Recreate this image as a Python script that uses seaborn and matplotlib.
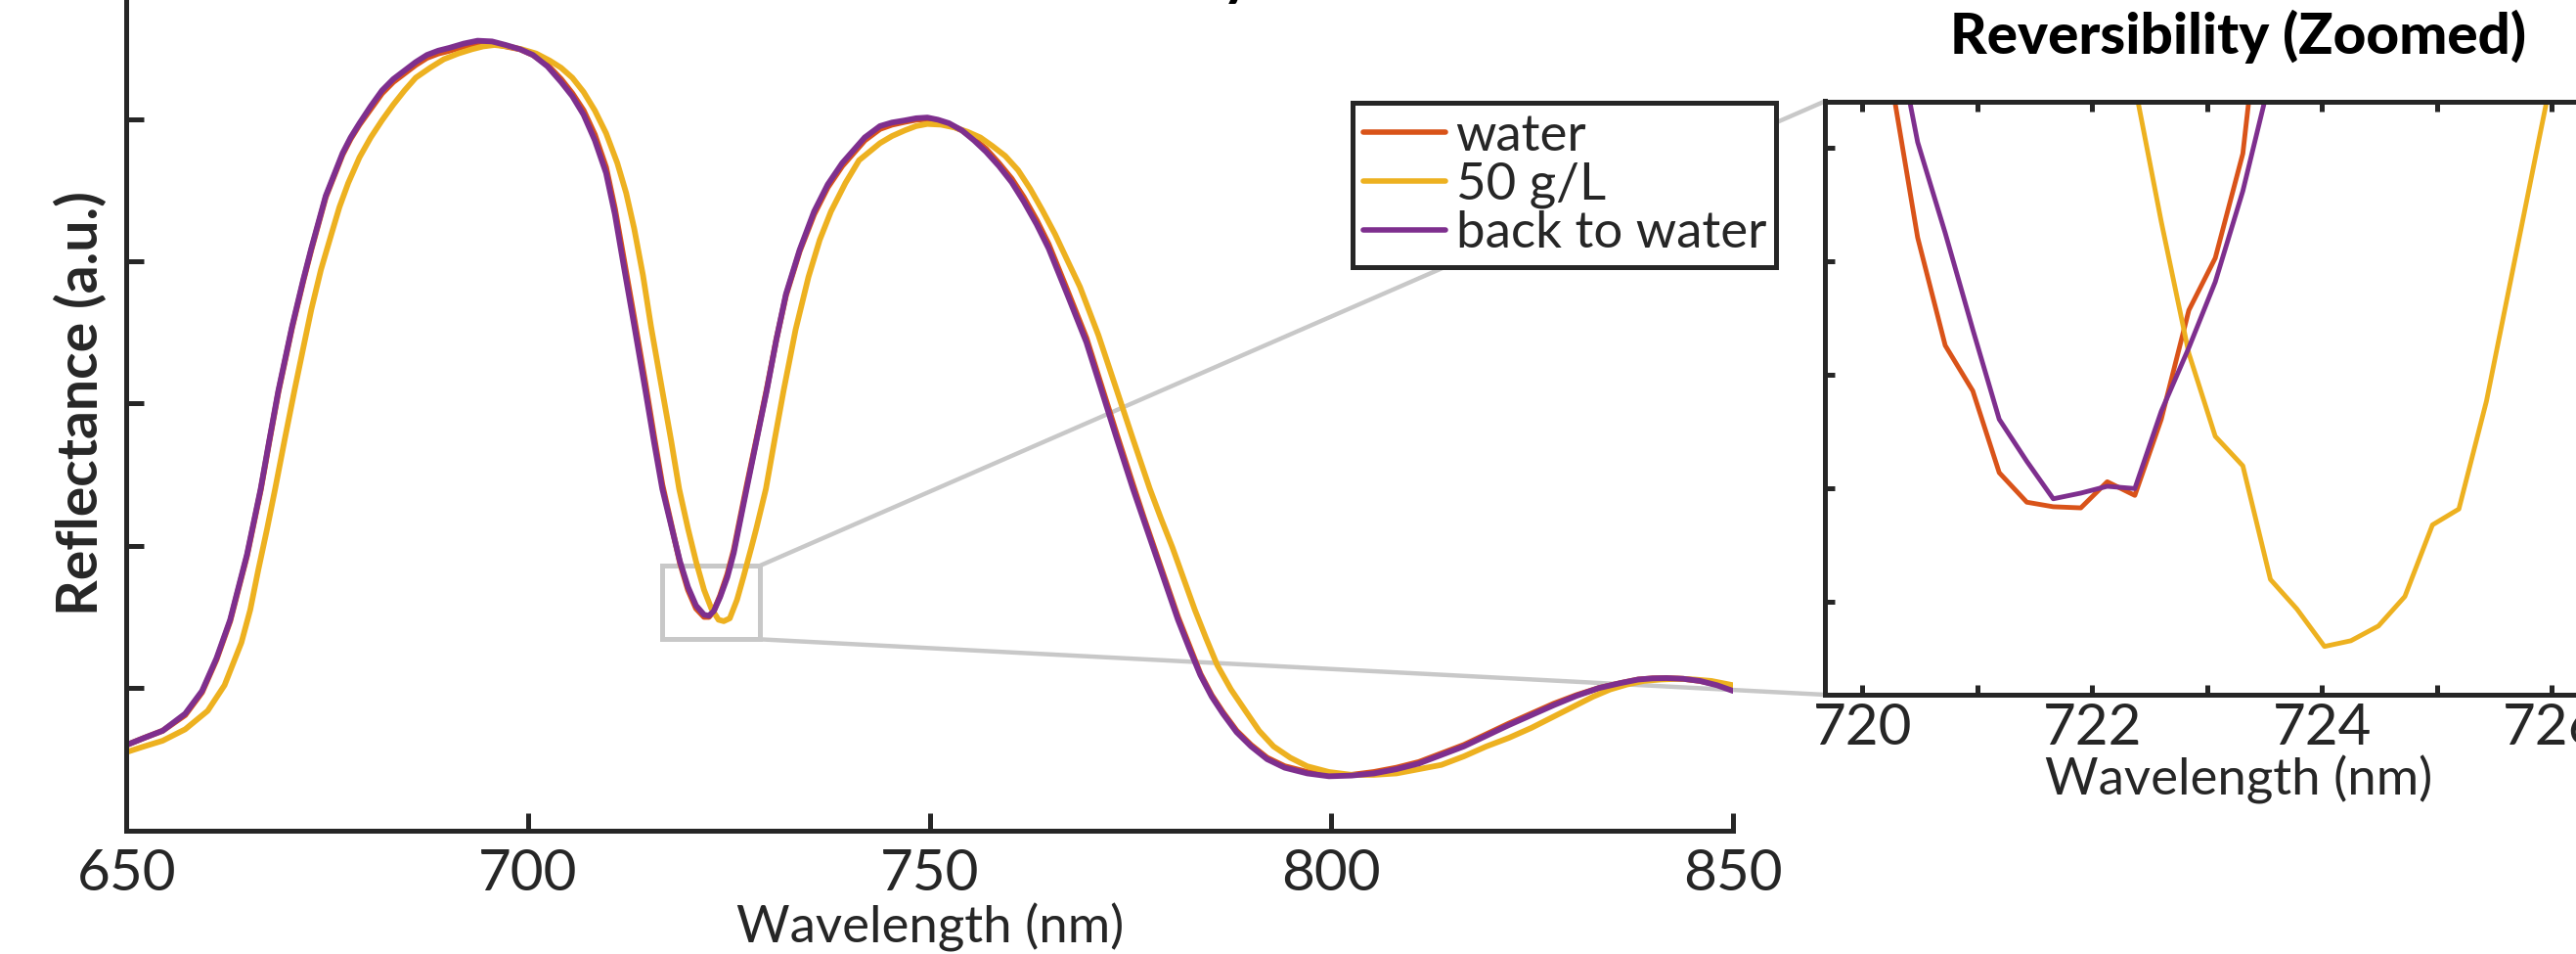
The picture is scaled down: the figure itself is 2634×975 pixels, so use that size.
import numpy as np
import pandas as pd
import seaborn as sns
import matplotlib.pyplot as plt
from matplotlib.patches import Rectangle, ConnectionPatch

# Sample names and colours
samples = ['water', '50 g/L', 'back to water']
colors = ['#D95319', '#EDB120', '#7E2F8E']

# Full spectrum (reflectance in tick units)
back_wl = [650.0, 652.2, 654.5, 657.3, 659.4, 661.2, 662.9, 663.9, 665.0, 666.7,
           667.8, 668.9, 670.6, 672.0, 673.0, 674.8, 676.9, 677.9, 679.0, 680.4,
           681.8, 683.2, 684.6, 686.0, 687.4, 688.8, 690.2, 692.0, 693.7, 695.5,
           697.2, 699.0, 700.6, 702.4, 704.1, 705.5, 706.9, 708.3, 709.7, 710.8,
           711.8, 713.2, 714.6, 715.7, 716.7, 717.9, 718.9, 719.9, 720.9, 721.9,
           722.5, 723.1, 723.9, 724.8, 725.6, 726.2, 727.2, 728.5, 729.7, 730.9,
           732.1, 733.8, 735.6, 737.3, 739.1, 741.9, 743.8, 745.3, 746.9, 748.3,
           749.7, 751.0, 752.4, 754.0, 755.5, 757.0, 758.6, 760.2, 761.7, 763.3,
           764.8, 767.1, 769.5, 771.4, 773.3, 775.3, 776.7, 778.1, 779.5, 780.9,
           782.3, 783.7, 785.1, 786.5, 788.2, 790.0, 792.0, 794.2, 797.0, 799.7,
           802.5, 805.3, 808.1, 810.9, 813.7, 816.5, 819.3, 822.1, 824.9, 827.7,
           830.5, 833.3, 836.0, 838.2, 840.0, 841.7, 843.8, 845.9, 848.0, 850.0]
back_refl = [0.60, 0.65, 0.70, 0.82, 0.98, 1.21, 1.48, 1.70, 1.94, 2.40,
             2.75, 3.09, 3.54, 3.87, 4.09, 4.46, 4.76, 4.87, 4.97, 5.09,
             5.20, 5.28, 5.34, 5.40, 5.45, 5.48, 5.50, 5.53, 5.55, 5.545,
             5.52, 5.49, 5.45, 5.37, 5.26, 5.16, 5.03, 4.85, 4.62, 4.33,
             4.00, 3.55, 3.09, 2.72, 2.40, 2.12, 1.89, 1.71, 1.58, 1.515,
             1.508, 1.54, 1.64, 1.78, 1.95, 2.12, 2.40, 2.76, 3.09, 3.45,
             3.77, 4.08, 4.35, 4.54, 4.69, 4.87, 4.95, 4.975, 4.99, 5.005,
             5.01, 4.995, 4.97, 4.92, 4.85, 4.77, 4.67, 4.555, 4.42, 4.26,
             4.09, 3.77, 3.43, 3.09, 2.75, 2.40, 2.17, 1.94, 1.71, 1.48,
             1.28, 1.09, 0.94, 0.82, 0.69, 0.59, 0.50, 0.44, 0.40, 0.38,
             0.385, 0.40, 0.43, 0.47, 0.53, 0.59, 0.665, 0.74, 0.81, 0.88,
             0.945, 1.00, 1.035, 1.06, 1.068, 1.07, 1.065, 1.05, 1.02, 0.98]
water_refl = [0.60, 0.65, 0.70, 0.81, 0.97, 1.20, 1.47, 1.69, 1.93, 2.39,
              2.74, 3.08, 3.53, 3.86, 4.08, 4.45, 4.75, 4.86, 4.96, 5.07,
              5.18, 5.26, 5.32, 5.38, 5.43, 5.46, 5.48, 5.51, 5.53, 5.53,
              5.51, 5.49, 5.45, 5.38, 5.28, 5.18, 5.06, 4.89, 4.66, 4.37,
              4.05, 3.60, 3.14, 2.76, 2.43, 2.13, 1.88, 1.69, 1.56, 1.50,
              1.50, 1.54, 1.65, 1.80, 1.97, 2.14, 2.42, 2.77, 3.10, 3.45,
              3.76, 4.07, 4.33, 4.52, 4.67, 4.85, 4.93, 4.96, 4.98, 4.995,
              5.00, 4.99, 4.96, 4.92, 4.86, 4.79, 4.69, 4.58, 4.45, 4.29,
              4.12, 3.80, 3.46, 3.12, 2.78, 2.43, 2.19, 1.96, 1.73, 1.50,
              1.30, 1.10, 0.95, 0.83, 0.70, 0.60, 0.51, 0.45, 0.41, 0.39,
              0.39, 0.41, 0.44, 0.48, 0.54, 0.60, 0.675, 0.75, 0.82, 0.89,
              0.95, 1.00, 1.035, 1.06, 1.068, 1.07, 1.065, 1.05, 1.025, 0.99]
salt_wl = [650.0, 652.2, 654.5, 657.3, 660.1, 662.2, 664.3, 665.4, 666.4, 667.5,
           668.5, 669.7, 670.9, 672.0, 673.0, 674.2, 675.5, 676.5, 677.6, 679.0,
           680.4, 681.8, 683.2, 684.6, 686.0, 687.8, 689.5, 691.3, 693.0, 694.4,
           695.8, 697.5, 699.2, 701.0, 702.7, 704.1, 705.5, 706.9, 708.3, 709.7,
           711.1, 712.2, 713.2, 714.3, 715.3, 716.7, 717.8, 718.8, 719.9, 720.9,
           721.9, 722.8, 723.7, 724.35, 725.1, 726.0, 726.8, 727.8, 728.4, 729.6,
           730.7, 731.8, 733.3, 734.9, 736.3, 737.7, 739.5, 741.2, 742.5, 743.8,
           745.3, 746.9, 748.3, 749.7, 751.4, 753.1, 754.7, 756.3, 757.8, 759.4,
           761.0, 762.5, 764.0, 765.6, 767.1, 768.7, 771.0, 773.3, 775.3, 777.4,
           778.8, 780.2, 781.6, 783.0, 784.4, 785.8, 787.5, 789.3, 791.0, 792.8,
           794.9, 797.0, 799.7, 802.5, 805.3, 808.1, 810.9, 813.7, 816.5, 819.3,
           822.1, 824.9, 827.7, 830.5, 832.6, 834.7, 836.8, 838.9, 841.0, 843.1,
           845.2, 847.3, 850.0]
salt_refl = [0.55, 0.59, 0.63, 0.71, 0.84, 1.02, 1.32, 1.55, 1.83, 2.12,
             2.40, 2.75, 3.09, 3.39, 3.66, 3.94, 4.19, 4.38, 4.55, 4.73,
             4.87, 4.99, 5.10, 5.20, 5.29, 5.36, 5.42, 5.46, 5.49, 5.51,
             5.52, 5.51, 5.49, 5.46, 5.41, 5.36, 5.29, 5.19, 5.06, 4.90,
             4.69, 4.48, 4.23, 3.90, 3.54, 3.09, 2.74, 2.40, 2.12, 1.89,
             1.69, 1.56, 1.48, 1.47, 1.49, 1.62, 1.78, 1.99, 2.12, 2.40,
             2.75, 3.09, 3.52, 3.89, 4.15, 4.35, 4.55, 4.71, 4.77, 4.83,
             4.88, 4.92, 4.95, 4.965, 4.96, 4.94, 4.91, 4.87, 4.81, 4.74,
             4.64, 4.51, 4.36, 4.19, 4.01, 3.82, 3.48, 3.09, 2.75, 2.40,
             2.19, 1.99, 1.77, 1.55, 1.35, 1.16, 0.99, 0.84, 0.70, 0.59,
             0.51, 0.45, 0.41, 0.39, 0.39, 0.40, 0.43, 0.46, 0.52, 0.59,
             0.65, 0.72, 0.80, 0.88, 0.94, 0.99, 1.025, 1.05, 1.06, 1.065,
             1.06, 1.05, 1.02]

# Zoomed region (raw samples around the dip)
zoom_water_wl = [720.01, 720.25, 720.48, 720.72, 720.96, 721.19, 721.43, 721.66,
                 721.90, 722.13, 722.37, 722.60, 722.84, 723.07, 723.31, 723.55, 723.78]
zoom_water = [2.00, 1.86, 1.721, 1.626, 1.586, 1.514, 1.488, 1.484,
              1.483, 1.506, 1.494, 1.561, 1.657, 1.703, 1.795, 2.01, 2.15]
zoom_back_wl = zoom_water_wl
zoom_back = [2.05, 1.925, 1.805, 1.725, 1.640, 1.561, 1.524, 1.491,
             1.496, 1.502, 1.500, 1.568, 1.624, 1.682, 1.762, 1.862, 1.95]
zoom_salt_wl = [721.90, 722.13, 722.37, 722.60, 722.84, 723.07, 723.31, 723.55,
                723.78, 724.02, 724.25, 724.49, 724.72, 724.96, 725.19, 725.43,
                725.67, 725.90, 726.14, 726.37]
zoom_salt = [2.10, 1.976, 1.855, 1.735, 1.619, 1.546, 1.520, 1.420,
             1.394, 1.361, 1.366, 1.379, 1.405, 1.468, 1.482, 1.577,
             1.698, 1.814, 1.934, 2.05]

# Zoom box drawn on the main panel
box_x = [716.7, 728.8]
box_y = [1.343, 1.859]

df_main = pd.concat([
    pd.DataFrame({'wavelength': back_wl, 'reflectance': water_refl, 'sample': 'water'}),
    pd.DataFrame({'wavelength': salt_wl, 'reflectance': salt_refl, 'sample': '50 g/L'}),
    pd.DataFrame({'wavelength': back_wl, 'reflectance': back_refl, 'sample': 'back to water'}),
])
df_zoom = pd.concat([
    pd.DataFrame({'wavelength': zoom_water_wl, 'reflectance': zoom_water, 'sample': 'water'}),
    pd.DataFrame({'wavelength': zoom_salt_wl, 'reflectance': zoom_salt, 'sample': '50 g/L'}),
    pd.DataFrame({'wavelength': zoom_back_wl, 'reflectance': zoom_back, 'sample': 'back to water'}),
])

sns.set_style('ticks')
plt.rcParams['font.family'] = ['Lato', 'DejaVu Sans']
ink = '#262626'
W, H = 2634, 975

fig = plt.figure(figsize=(W / 100, H / 100), dpi=100)

# Main panel
ax = fig.add_axes([129.4 / W, (H - 848.6) / H, 1642.6 / W, 872.4 / H])
sns.lineplot(data=df_main, x='wavelength', y='reflectance', hue='sample',
             hue_order=samples, palette=colors, estimator=None, sort=False,
             linewidth=4.2, ax=ax)
ax.set_xlim(650, 850)
ax.set_ylim(0, 6)
ax.set_xticks([650, 700, 750, 800, 850])
ax.set_yticks([1, 2, 3, 4, 5])
ax.tick_params(direction='in', length=13, width=3.6, colors=ink, labelsize=42, pad=13)
ax.tick_params(axis='y', labelleft=False)
ax.spines[['top', 'right']].set_visible(False)
for s in ['left', 'bottom']:
    ax.spines[s].set_linewidth(3.6)
    ax.spines[s].set_color(ink)
ax.set_xlabel('Wavelength (nm)', fontsize=38, color=ink, labelpad=2)
ax.set_ylabel('Reflectance (a.u.)', fontsize=41, weight='bold', color=ink, labelpad=14)

leg0 = ax.get_legend()
handles = leg0.legend_handles
labels = [t.get_text() for t in leg0.get_texts()]
leg0.remove()
leg = ax.legend(handles, labels, loc='upper left', bbox_to_anchor=(1383 / W, 1 - 105 / H),
                bbox_transform=fig.transFigure, borderaxespad=0, frameon=True,
                fancybox=False, edgecolor=ink, framealpha=1, fontsize=38,
                handlelength=1.6, handletextpad=0.2, borderpad=0.2, labelspacing=0.05)
leg.get_frame().set_linewidth(3.6)
leg.set_zorder(5)
for line in leg.get_lines():
    line.set_linewidth(4)

ax.add_patch(Rectangle((box_x[0], box_y[0]), box_x[1] - box_x[0], box_y[1] - box_y[0],
                       fill=False, edgecolor='#c8c8c8', linewidth=3.6, zorder=1.5))

# Main title sits above the canvas; only the tail of the y shows
fig.text(1280 / W, 1.005, 'Reversibility', ha='right', va='baseline',
         fontsize=40, weight='black', color='black')

# Zoomed panel
axin = fig.add_axes([1866 / W, (H - 710) / H, 846 / W, 606.5 / H])
sns.lineplot(data=df_zoom, x='wavelength', y='reflectance', hue='sample',
             hue_order=samples, palette=colors, estimator=None, sort=False,
             linewidth=3.5, legend=False, ax=axin)
axin.set_xlim(719.673, 726.873)
axin.set_ylim(1.3185, 1.841)
axin.set_xticks([720, 721, 722, 723, 724, 725, 726])
axin.set_xticklabels(['720', '', '722', '', '724', '', '726'])
axin.set_yticks([1.4, 1.5, 1.6, 1.7, 1.8])
axin.tick_params(direction='in', length=7.5, width=3.6, colors=ink, labelsize=42,
                 top=True, right=True, pad=6)
axin.tick_params(axis='y', labelleft=False)
for s in axin.spines.values():
    s.set_linewidth(3.6)
    s.set_color(ink)
axin.set_xlabel('Wavelength (nm)', fontsize=38, color=ink, labelpad=0)
axin.set_ylabel('')
axin.set_title('Reversibility (Zoomed)', fontsize=42, weight='black', color='black', pad=35)

# Connector lines from the box to the zoomed panel
for yb, ya in [(box_y[1], 1), (box_y[0], 0)]:
    con = ConnectionPatch(xyA=(box_x[1], yb), coordsA=ax.transData,
                          xyB=(0, ya), coordsB=axin.transAxes,
                          color='#c8c8c8', linewidth=3.2, zorder=1.5)
    con.set_clip_on(False)
    ax.add_artist(con)

fig.savefig('out.png', dpi=100)
